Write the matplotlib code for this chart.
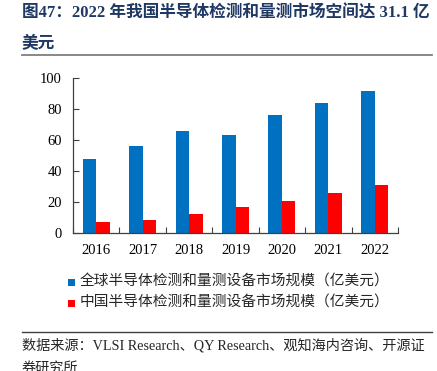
import matplotlib
matplotlib.use("Agg")
import matplotlib.pyplot as plt
from matplotlib.patches import Rectangle
from matplotlib.lines import Line2D
import numpy as np

years = ["2016", "2017", "2018", "2019", "2020", "2021", "2022"]
global_market = [47.5, 56.0, 66.0, 63.4, 76.1, 84.1, 91.8]
china_market = [6.9, 8.4, 12.3, 16.8, 20.6, 25.6, 31.1]
yticks = [0, 20, 40, 60, 80, 100]

title_text = "图47：2022 年我国半导体检测和量测市场空间达 31.1 亿\n美元"
legend_labels = ["全球半导体检测和量测设备市场规模（亿美元）",
                 "中国半导体检测和量测设备市场规模（亿美元）"]
source_text = "数据来源：VLSI Research、QY Research、观知海内咨询、开源证\n券研究所"

W, H = 437, 371
fig = plt.figure(figsize=(W / 100, H / 100), dpi=100)

mixed = ["Liberation Serif", "Noto Sans CJK SC"]
serif = ["Liberation Serif"]

ax = fig.add_axes([73 / W, 1 - 233 / H, (398 - 73) / W, (233 - 78) / H])
x = np.arange(len(years))
bw = 0.29
ax.bar(x - bw / 2, global_market, width=bw, color="#0070C0", linewidth=0)
ax.bar(x + bw / 2, china_market, width=bw, color="#FF0000", linewidth=0)
ax.set_xlim(-0.5, len(years) - 0.5)
ax.set_ylim(0, 100)
ax.set_yticks(yticks)
ax.set_yticklabels([str(v) for v in yticks], family=serif, fontsize=10.5)
ax.set_xticks(x)
ax.set_xticklabels(years, family=serif, fontsize=10.5)
ax.set_xticks(np.arange(len(years) + 1) - 0.5, minor=True)
ax.tick_params(axis="x", which="major", length=0, pad=8)
ax.tick_params(axis="x", which="minor", direction="in", length=4, width=0.8, color="#404040")
ax.tick_params(axis="y", direction="in", length=4, width=0.8, pad=8, color="#404040")
for s in ["top", "right"]:
    ax.spines[s].set_visible(False)
for s in ["left", "bottom"]:
    ax.spines[s].set_color("#404040")
    ax.spines[s].set_linewidth(0.9)

# title
fig.text(22 / W, 1 - 6 / H, title_text, family=mixed, fontsize=12, fontweight="bold",
         color="#1F3864", va="top", ha="left", linespacing=2.15)
fig.add_artist(Line2D([22 / W, 432 / W], [1 - 55 / H, 1 - 55 / H], color="#7F7F7F", lw=1.3))

# legend
colors = ["#0070C0", "#FF0000"]
for i, (lab, c) in enumerate(zip(legend_labels, colors)):
    yc = 282 + i * 21
    fig.add_artist(Rectangle((68 / W, 1 - (yc + 3.5) / H), 7 / W, 7 / H, color=c, lw=0))
    fig.text(80 / W, 1 - yc / H, lab, family=mixed, fontsize=10.6, color="#262626",
             va="center", ha="left")

# source
fig.add_artist(Line2D([22 / W, 432 / W], [1 - 332 / H, 1 - 332 / H], color="#404040", lw=1.0))
fig.text(22 / W, 1 - 338 / H, source_text, family=mixed, fontsize=10.2, color="#262626",
         va="top", ha="left", linespacing=1.9)

fig.savefig("out.png", dpi=100)
